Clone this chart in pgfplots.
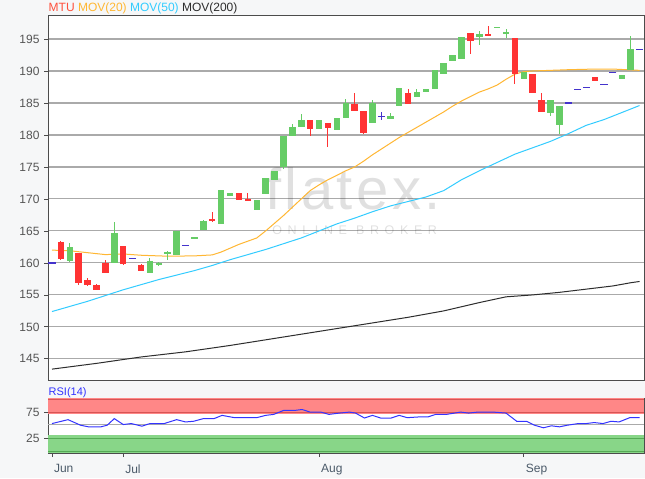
\documentclass[border=0pt]{standalone}
\usepackage{pgfplots}
\pgfplotsset{compat=1.18}
\usepackage{pgfplotstable}
\usepackage{fontspec}
\setmainfont{Liberation Sans}
\newfontfamily\wmfont[LetterSpace=45]{Liberation Sans}
\newfontfamily\wmbig[LetterSpace=6]{Liberation Sans}
\definecolor{bgc}{RGB}{246,247,248}
\definecolor{cgreen}{RGB}{102,204,102}
\definecolor{cred}{RGB}{255,51,51}
\definecolor{cblue}{RGB}{68,51,204}
\definecolor{corange}{RGB}{255,183,51}
\definecolor{ccyan}{RGB}{51,204,255}
\definecolor{cdark}{RGB}{45,45,45}
\definecolor{gridc}{RGB}{170,170,170}
\definecolor{tickc}{RGB}{85,85,85}
\definecolor{xtickc}{RGB}{75,90,105}
\definecolor{rsiblue}{RGB}{51,51,255}
\definecolor{bandred}{RGB}{255,135,135}
\definecolor{bandredl}{RGB}{215,85,85}
\definecolor{bandgreen}{RGB}{136,214,136}
\definecolor{bandgreenl}{RGB}{85,170,85}
\definecolor{legred}{RGB}{255,80,60}

\pgfplotstableread{
i o h l c
2 160.3 163.1 160.2 162.5
7 160.0 166.4 160.0 164.6
11 158.5 160.8 158.5 160.3
12 159.6 160.1 159.5 160.0
13 161.5 161.8 160.5 161.7
14 161.3 165.0 161.3 165.0
16 163.8 164.0 163.8 164.0
17 165.1 166.7 165.1 166.6
19 166.1 171.4 166.1 171.4
20 170.5 171.0 170.5 170.9
23 168.3 169.9 168.3 169.9
24 170.8 173.2 170.8 173.2
25 172.9 174.3 172.9 174.3
26 175.0 179.9 174.7 179.9
27 179.8 181.7 179.8 181.3
28 181.3 183.2 181.3 182.4
30 181.0 182.3 180.9 182.3
32 180.7 182.7 180.7 182.7
33 182.7 185.6 182.7 185.0
36 181.8 185.5 181.8 185.0
38 182.5 183.4 182.5 182.9
39 184.5 187.3 184.5 187.3
41 185.95 187.2 185.95 186.7
42 186.7 187.2 186.7 187.2
43 187.2 190.2 187.2 190.2
44 189.6 191.3 189.6 191.3
45 191.6 192.5 191.6 192.5
46 191.8 195.3 191.8 195.3
48 195.3 196.2 194.0 195.8
50 196.7 196.9 196.7 196.9
51 195.9 196.5 195.1 196.0
53 188.8 189.9 188.8 189.9
56 183.4 185.5 183.0 185.5
57 181.6 184.6 180.2 184.6
64 188.7 189.3 188.7 189.3
65 190.1 195.4 190.1 193.4
}\greentab

\pgfplotstableread{
i o h l c
1 163.2 163.4 160.5 160.6
3 161.5 161.6 156.6 156.9
4 157.4 157.7 156.4 156.5
5 156.6 156.7 155.7 155.8
6 160.0 160.5 158.4 158.5
8 162.6 162.7 159.6 159.8
10 159.7 159.8 158.7 158.8
18 166.8 168.0 166.4 166.5
21 171.0 171.0 169.8 169.8
22 170.0 170.9 169.8 169.8
29 182.3 182.3 179.9 180.9
31 181.8 181.8 178.1 181.1
34 184.9 186.5 183.8 183.8
35 183.8 183.8 180.2 180.3
40 186.6 187.2 184.8 184.8
47 196.0 196.0 192.7 194.7
49 195.8 197.1 195.6 195.6
52 195.1 195.1 188.0 189.6
54 189.6 189.6 186.6 186.6
55 185.5 186.5 183.6 183.6
61 189.0 189.0 188.5 188.5
}\redtab

\pgfplotstableread{
i o h l c
0 160.0 160.0 160.0 160.0
9 160.7 160.7 160.7 160.7
15 162.7 162.7 162.7 162.7
37 182.9 183.6 182.3 182.9
58 185.0 185.0 185.0 185.0
59 187.1 187.1 187.1 187.1
60 187.4 187.4 187.4 187.4
62 187.9 187.9 187.9 187.9
63 189.8 189.8 189.8 189.8
66 193.4 193.4 193.4 193.4
}\bluetab

\pgfplotstableread{
i v
0 162.0
2 161.9
4 161.6
6 161.3
8 161.4
10 161.2
13 161.05
16 161.1
18 161.25
19 161.7
20 162.3
21 162.9
22 163.4
23 163.9
24 165.0
25 166.2
26 167.4
27 168.7
28 170.0
29 171.3
30 172.2
31 173.0
32 173.7
33 174.4
34 175.0
35 175.9
36 176.9
37 177.8
38 178.7
39 179.6
40 180.4
41 181.2
42 182.0
43 182.8
44 183.6
45 184.5
46 185.3
47 186.0
48 186.7
49 187.2
50 187.8
51 188.7
52 189.5
53 189.9
54 190.0
56 190.1
58 190.2
61 190.3
63 190.3
66 190.1
}\movtwenty

\pgfplotstableread{
i v
0 152.4
2 153.2
4 154.0
6 154.9
8 155.8
10 156.6
12 157.4
14 158.1
16 158.8
18 159.6
20 160.5
22 161.3
24 162.1
26 163.0
28 163.9
30 165.0
32 166.1
34 167.0
36 168.0
38 168.9
40 169.6
42 170.3
44 171.3
46 173.0
48 174.4
50 175.7
52 177.0
54 178.0
56 179.0
58 180.2
60 181.5
62 182.4
64 183.5
66 184.6
}\movfifty

\pgfplotstableread{
i v
0 143.4
5 144.3
10 145.3
15 146.1
20 147.1
25 148.2
30 149.3
35 150.4
40 151.5
44 152.5
48 153.8
51 154.7
54 155.0
57 155.4
60 155.9
63 156.4
65 156.9
66 157.1
}\movtwohundred

\pgfplotstableread{
i v
0 53.8
1.8 61.5
3.2 50.6
4.1 47.4
5.5 47.4
6.2 50.6
7 63.5
8 51.9
8.9 53.8
10.1 48.7
11 53.8
12.6 53.8
14 61.5
15 57
15.9 58.3
17 63.5
18.2 63.5
19.1 69.9
20.5 65.4
23 65.4
24 69.9
24.9 71.8
26 79.5
27.2 79.5
28.1 81.4
29 76.3
30.2 76.3
31.1 71.8
32.3 74.4
33.4 76.3
34.1 74.4
35.1 64.7
36 69.9
36.9 64.7
38.1 64.7
39 69.9
39.9 65.4
41.1 66.7
42.2 66.7
43.1 71.8
44.3 71.8
45.9 76.3
46.8 74.4
47.8 76.3
49.6 76.3
51 74.4
52.2 58.3
53.3 58.3
54.2 50.6
55.2 45.5
56.1 49.4
57 47.4
57.9 50.6
59.1 53.8
60 53.8
60.9 55.8
61.9 53.8
62.8 58.3
63.7 57
64.9 65.4
66 65.4
}\rsitab

\pgfplotsset{
  wick/.style={only marks, mark=*, mark size=0.01pt, mark options={opacity=0}, forget plot,
    error bars/.cd, y dir=both, y explicit, error mark=none,
    error bar style={line width=1pt, color=#1, opacity=1}},
  body/.style={only marks, mark=*, mark size=0.01pt, mark options={opacity=0}, forget plot,
    error bars/.cd, y dir=both, y explicit, error mark=none,
    error bar style={line width=6.5pt, color=#1, opacity=1}},
}

\begin{document}
\begin{tikzpicture}[x=1pt,y=1pt]
\fill[bgc] (0,0) rectangle (645,478);

\begin{axis}[
  at={(48pt,98pt)}, anchor=south west, scale only axis,
  width=596pt, height=365pt,
  xmin=-0.45, xmax=66.5, ymin=141.7, ymax=198.75,
  xtick=\empty,
  ytick={145,150,...,195},
  ymajorgrids, grid style={gridc, line width=1.1pt},
  axis line style={black!70, line width=0.8pt},
  tick style={black!70, line width=0.8pt},
  tick align=outside, major tick length=4pt,
  ytick pos=left,
  yticklabel style={font=\fontsize{12}{12}\selectfont, text=tickc, xshift=-1pt},
  /pgf/number format/assume math mode=true,
  axis background/.style={fill=white},
]
\node[anchor=base, inner sep=0pt, text=black, text opacity=0.12, font=\wmbig\fontsize{58}{58}\selectfont] at (axis cs:33.8,168.3) {flatex.};
\node[anchor=base, inner sep=0pt, text=black, text opacity=0.12, font=\wmfont\fontsize{12.5}{12.5}\selectfont] at (axis cs:34,164.45) {ONLINE BROKER};

\addplot[cdark, line width=1pt, no marks, forget plot] table[x=i, y=v] {\movtwohundred};
\addplot[ccyan, line width=1pt, no marks, forget plot] table[x=i, y=v] {\movfifty};
\addplot[corange, line width=1pt, no marks, forget plot] table[x=i, y=v] {\movtwenty};

\addplot[wick=cgreen] table[x=i, y expr={(\thisrow{h}+\thisrow{l})/2}, y error expr={(\thisrow{h}-\thisrow{l})/2}] {\greentab};
\addplot[body=cgreen] table[x=i, y expr={(\thisrow{o}+\thisrow{c})/2}, y error expr={max(abs(\thisrow{c}-\thisrow{o})/2,0.15)}] {\greentab};
\addplot[wick=cred] table[x=i, y expr={(\thisrow{h}+\thisrow{l})/2}, y error expr={(\thisrow{h}-\thisrow{l})/2}] {\redtab};
\addplot[body=cred] table[x=i, y expr={(\thisrow{o}+\thisrow{c})/2}, y error expr={max(abs(\thisrow{c}-\thisrow{o})/2,0.15)}] {\redtab};
\addplot[wick=cblue] table[x=i, y expr={(\thisrow{h}+\thisrow{l})/2}, y error expr={(\thisrow{h}-\thisrow{l})/2}] {\bluetab};
\addplot[cblue, only marks, mark=-, mark size=3.6pt, mark options={line width=1.3pt}, forget plot] table[x=i, y=c] {\bluetab};
\end{axis}

\begin{axis}[
  at={(48pt,25pt)}, anchor=south west, scale only axis,
  width=596pt, height=55pt,
  xmin=-0.45, xmax=66.5, ymin=-4, ymax=104,
  xtick={0,8,30,53}, xticklabels={Jun,Jul,Aug,Sep},
  ytick={25,75},
  axis line style={black!70, line width=0.8pt},
  tick style={black!70, line width=0.8pt},
  tick align=outside, major tick length=4pt,
  xtick pos=bottom, ytick pos=left,
  yticklabel style={font=\fontsize{12}{12}\selectfont, text=tickc, xshift=-1pt},
  xticklabel style={font=\fontsize{12}{12}\selectfont, text=xtickc, anchor=north west, xshift=-1.5pt, yshift=-4pt},
  /pgf/number format/assume math mode=true,
  axis background/.style={fill=white},
]
\addplot[draw=none, fill=bandred, forget plot] coordinates {(-0.45,72) (66.5,72) (66.5,104) (-0.45,104)} -- cycle;
\addplot[draw=none, fill=bandgreen, forget plot] coordinates {(-0.45,-4) (66.5,-4) (66.5,32) (-0.45,32)} -- cycle;
\addplot[bandredl, line width=1pt, forget plot] coordinates {(-0.45,75) (66.5,75)};
\addplot[bandredl, line width=1pt, forget plot] coordinates {(-0.45,100.5) (66.5,100.5)};
\addplot[bandgreenl, line width=1pt, forget plot] coordinates {(-0.45,25) (66.5,25)};
\addplot[bandgreenl, line width=1pt, forget plot] coordinates {(-0.45,-0.5) (66.5,-0.5)};
\addplot[gridc, line width=1pt, forget plot] coordinates {(-0.45,51.5) (66.5,51.5)};
\addplot[rsiblue, line width=1pt, no marks, forget plot] table[x=i, y=v] {\rsitab};
\end{axis}

\node[anchor=base west, inner sep=0pt, font=\fontsize{12}{12}\selectfont] at (48.5,466)
  {\textcolor{legred}{MTU} \textcolor{corange}{MOV(20)} \textcolor{ccyan}{MOV(50)} \textcolor{cdark}{MOV(200)}};
\node[anchor=base west, inner sep=0pt, font=\fontsize{11}{11}\selectfont, text=rsiblue] at (48.5,83) {RSI(14)};
\end{tikzpicture}
\end{document}
